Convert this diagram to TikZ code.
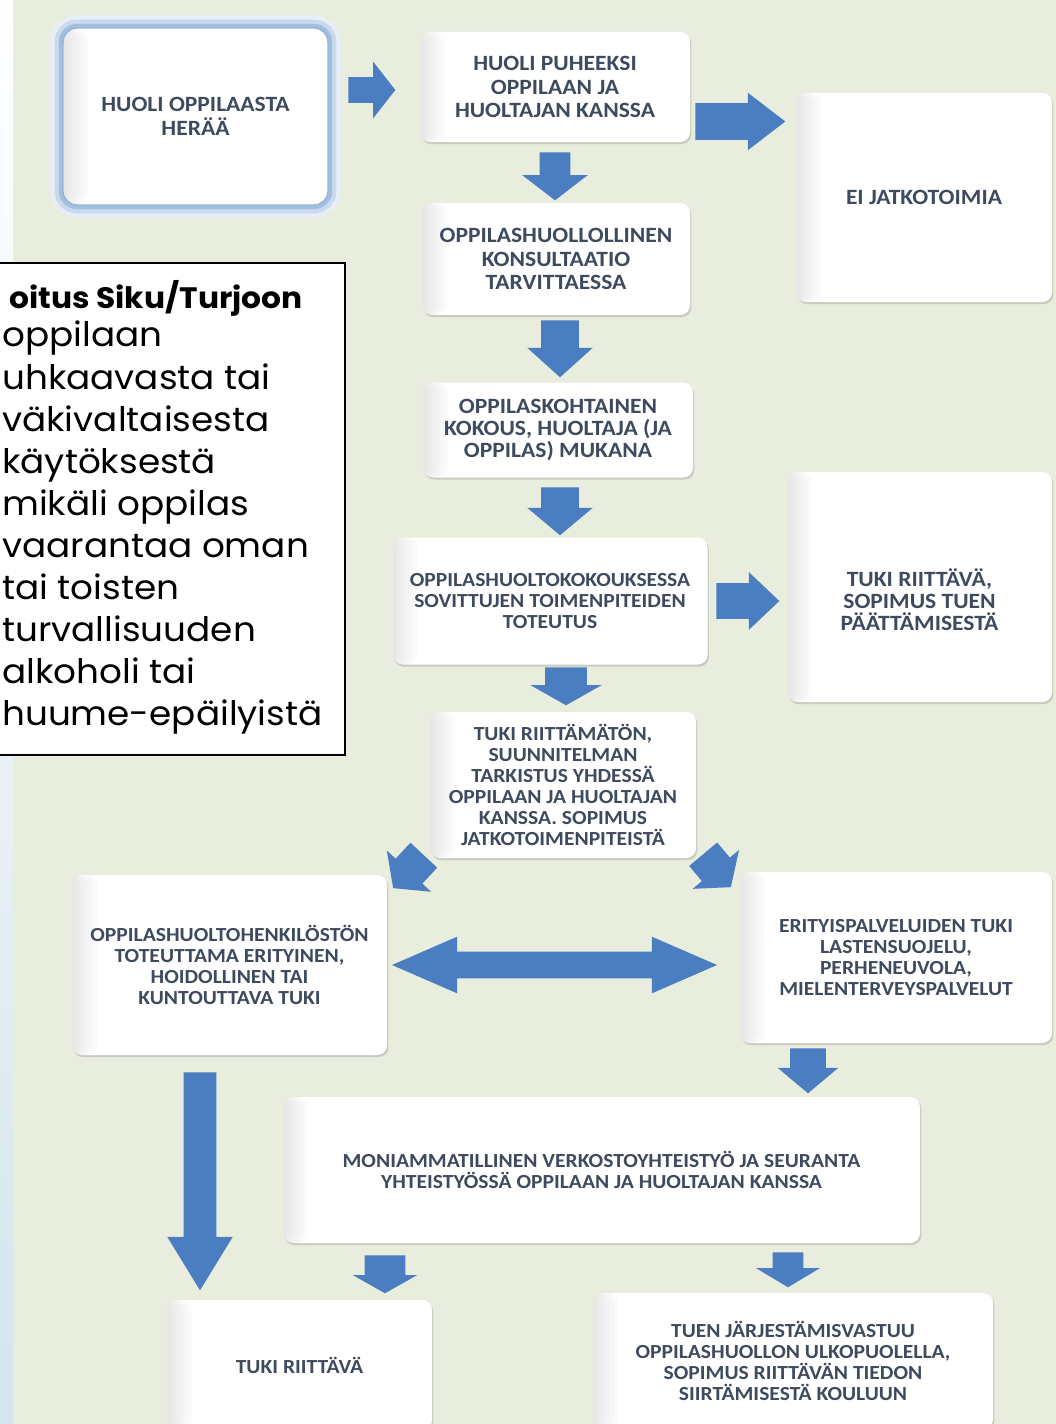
\documentclass[tikz,border=0pt]{standalone}
\usepackage{fontspec}
\usepackage{tikz}
\usetikzlibrary{shapes.arrows,shadows}
\pgfdeclarelayer{background}
\pgfsetlayers{background,main}

\newfontfamily\boxfont[FakeStretch=1.08]{Carlito}
\newfontfamily\notefont[FakeStretch=1.06]{Poppins}
\newcommand\px{0.025cm}

\definecolor{bgbeige}{RGB}{233,237,221}
\definecolor{stripblue}{RGB}{212,229,238}
\definecolor{arrowblue}{RGB}{74,126,193}
\definecolor{glowblue}{RGB}{122,163,210}
\definecolor{boxtext}{RGB}{62,74,94}

\begin{document}
\begin{tikzpicture}
  [
    x = \px,
    y = -\px,
    box/.style = {
      rectangle,
      rounded corners = 7pt,
      fill = white,
      text = boxtext,
      align = center,
      inner sep = 0pt,
      drop shadow = {shadow xshift=1pt, shadow yshift=-1.5pt, opacity=0.3},
      path picture = {
        \foreach \k in {1,...,6}
          \fill [black, fill opacity=0.016]
            (path picture bounding box.south west) rectangle ([xshift=\k*3pt] path picture bounding box.north west);
      },
    },
    big/.style = {
      font = \boxfont\bfseries\fontsize{15.5}{17}\selectfont,
    },
    small/.style = {
      font = \boxfont\bfseries\fontsize{14.2}{15}\selectfont,
    },
    glow/.style = {
      draw = glowblue!80,
      line width = 1pt,
      rounded corners = 10pt,
      preaction = {draw=glowblue!18, line width=18pt},
      preaction = {draw=glowblue!40, line width=12pt},
      preaction = {draw=glowblue!70, line width=6pt},
    },
    flow/.style n args = {4}{
      single arrow,
      fill = arrowblue,
      draw = none,
      inner xsep = 0pt,
      inner ysep = #3*\px/2,
      minimum height = #1*\px,
      single arrow head extend = {(#2-#3)*\px/2},
      single arrow tip angle = #4,
      anchor = tail,
    },
    twoway/.style n args = {4}{
      double arrow,
      fill = arrowblue,
      draw = none,
      inner xsep = 0pt,
      inner ysep = #3*\px/2,
      minimum height = #1*\px,
      double arrow head extend = {(#2-#3)*\px/2},
      double arrow tip angle = #4,
    },
    note/.style = {
      draw = black,
      line width = 1.4pt,
      fill = white,
      inner sep = 0pt,
    },
    notetext/.style = {
      inner sep = 0pt,
      font = \notefont\fontsize{24}{29}\selectfont,
    },
  ]

  \useasboundingbox (0,0) rectangle (1056,1424);

  \begin{pgfonlayer}{background}
    \fill [bgbeige] (13,0) rectangle (1056,1424);
    \shade [top color=white, bottom color=stripblue] (0,0) rectangle (13,1424);
  \end{pgfonlayer}

  \node (b1) [box, big, glow, minimum width=265*\px, minimum height=177*\px]
    at (195.5,116.5) {HUOLI OPPILAASTA\\HERÄÄ};
  \node (b2) [box, big, minimum width=270*\px, minimum height=110*\px]
    at (555,87) {HUOLI PUHEEKSI\\OPPILAAN JA\\HUOLTAJAN KANSSA};
  \node (b3) [box, big, minimum width=256*\px, minimum height=209*\px]
    at (924,197.5) {EI JATKOTOIMIA};
  \node (b4) [box, big, minimum width=268*\px, minimum height=112*\px]
    at (556,259) {OPPILASHUOLLOLLINEN\\KONSULTAATIO\\TARVITTAESSA};
  \node (b5) [box, big, font=\boxfont\bfseries\fontsize{15.5}{15.5}\selectfont, minimum width=270*\px, minimum height=95*\px]
    at (558,430) {OPPILASKOHTAINEN\\KOKOUS, HUOLTAJA (JA\\OPPILAS) MUKANA};
  \node (b6) [box, small, minimum width=315*\px, minimum height=127*\px]
    at (550,601) {OPPILASHUOLTOKOKOUKSESSA\\SOVITTUJEN TOIMENPITEIDEN\\TOTEUTUS};
  \node (b7) [box, big, font=\boxfont\bfseries\fontsize{15.5}{15.5}\selectfont, minimum width=265*\px, minimum height=230*\px]
    at (919.5,587) {\mbox{}\\[15pt]TUKI RIITTÄVÄ,\\SOPIMUS TUEN\\PÄÄTTÄMISESTÄ};
  \node (b8) [box, small, minimum width=266*\px, minimum height=146*\px]
    at (563,785) {TUKI RIITTÄMÄTÖN,\\SUUNNITELMAN\\TARKISTUS YHDESSÄ\\OPPILAAN JA HUOLTAJAN\\KANSSA. SOPIMUS\\JATKOTOIMENPITEISTÄ};
  \node (b9) [box, small, minimum width=315*\px, minimum height=180*\px]
    at (229.5,965) {OPPILASHUOLTOHENKILÖSTÖN\\TOTEUTTAMA ERITYINEN,\\HOIDOLLINEN TAI\\KUNTOUTTAVA TUKI};
  \node (b10) [box, small, minimum width=312*\px, minimum height=171*\px]
    at (896,957.5) {ERITYISPALVELUIDEN TUKI\\LASTENSUOJELU,\\PERHENEUVOLA,\\MIELENTERVEYSPALVELUT};
  \node (b11) [box, small, minimum width=637*\px, minimum height=146*\px]
    at (601.5,1170) {MONIAMMATILLINEN VERKOSTOYHTEISTYÖ JA SEURANTA\\YHTEISTYÖSSÄ OPPILAAN JA HUOLTAJAN KANSSA};
  \node (b12) [box, small, minimum width=265*\px, minimum height=130*\px]
    at (299.5,1365) {TUKI RIITTÄVÄ};
  \node (b13) [box, small, minimum width=400*\px, minimum height=136*\px]
    at (793,1361) {TUEN JÄRJESTÄMISVASTUU\\OPPILASHUOLLON ULKOPUOLELLA,\\SOPIMUS RIITTÄVÄN TIEDON\\SIIRTÄMISESTÄ KOULUUN};

  \node (a12) [flow={47}{56}{25}{104}] at (348,90) {};
  \node (a23) [flow={90}{57}{36}{75}] at (695,121.5) {};
  \node (a24) [flow={48}{65}{30}{105}, rotate=-90] at (555,152) {};
  \node (a45) [flow={57}{65}{37}{96}, rotate=-90] at (560,320) {};
  \node (a56) [flow={48}{65}{37}{100}, rotate=-90] at (560,487) {};
  \node (a67) [flow={63}{57}{35}{87}] at (716,601) {};
  \node (a68) [flow={38}{71}{41}{121}, rotate=-90] at (566,667) {};
  \node (a89) [flow={45}{60}{36}{105}, rotate=-133] at (424,855) {};
  \node (a810) [flow={43}{60}{36}{105}, rotate=-50] at (703,854) {};
  \node (a910) [twoway={325}{56}{26}{47}] at (554.5,965) {};
  \node (a1011) [flow={45}{60}{35}{100}, rotate=-90] at (808,1048) {};
  \node (a912) [flow={218}{65}{32}{63}, rotate=-90] at (200,1072) {};
  \node (a1112) [flow={38}{64}{40}{121}, rotate=-90] at (385,1255) {};
  \node (a1113) [flow={35}{63}{30}{118}, rotate=-90] at (788,1252) {};

  \node (note) [note, minimum width=365*\px, minimum height=492*\px] at (162.5,509) {};
  \node (title) [notetext, font=\notefont\bfseries\fontsize{21}{29}\selectfont, anchor=base east]
    at (303,309) {oitus Siku/Turjoon};
  \foreach \entry [count=\i] in {oppilaan, uhkaavasta tai, väkivaltaisesta, käytöksestä,
      mikäli oppilas, vaarantaa oman, tai toisten, turvallisuuden, alkoholi tai, huume-epäilyistä}
    \node (line\i) [notetext, anchor=base west] at (2,{347+42*(\i-1)}) {\entry};

\end{tikzpicture}
\end{document}
